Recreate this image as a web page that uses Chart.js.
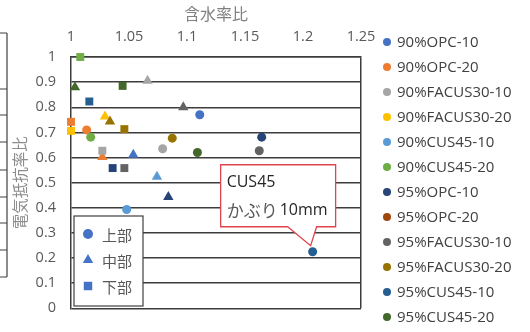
<!DOCTYPE html>
<html>
<head>
<meta charset="utf-8">
<script src="https://cdn.jsdelivr.net/npm/chart.js@4.4.1/dist/chart.umd.min.js"></script>
<style>
  html, body { margin: 0; padding: 0; background: #fff; }
  canvas { display: block; }
</style>
</head>
<body>
<canvas id="moistureChart" width="530" height="332"></canvas>
<script>
const seriesNames = ["90%OPC-10", "90%OPC-20", "90%FACUS30-10", "90%FACUS30-20", "90%CUS45-10", "90%CUS45-20",
  "95%OPC-10", "95%OPC-20", "95%FACUS30-10", "95%FACUS30-20", "95%CUS45-10", "95%CUS45-20"];
const seriesColors = ["#4472C4", "#ED7D31", "#A5A5A5", "#FFC000", "#5B9BD5", "#70AD47",
  "#264478", "#9E480E", "#636363", "#997300", "#255E91", "#43682B"];

// 上部 (circle)
const upperX = [1.111, 1.0135, 1.079, null, 1.048, 1.017, 1.1644, null, 1.1623, 1.0873, 1.2083, 1.109];
const upperY = [0.77, 0.71, 0.635, null, 0.393, 0.681, 0.681, null, 0.627, 0.677, 0.225, 0.62];
// 中部 (triangle)
const middleX = [1.0537, 1.027, 1.066, 1.0293, 1.0741, null, 1.0839, null, 1.0968, 1.0336, null, 1.0034];
const middleY = [0.611, 0.602, 0.905, 0.763, 0.523, null, 0.443, null, 0.80, 0.743, null, 0.88];
// 下部 (square)
const lowerX = [null, 1.0, 1.027, 1.0, null, 1.008, 1.0359, null, 1.046, 1.046, 1.0158, 1.0445];
const lowerY = [null, 0.742, 0.627, 0.706, null, 1.0, 0.558, null, 0.558, 0.713, 0.823, 0.885];

const positionNames = ["上部", "中部", "下部"];
const xTickLabels = ["1", "1.05", "1.1", "1.15", "1.2", "1.25"];
const yTickLabels = ["0", "0.1", "0.2", "0.3", "0.4", "0.5", "0.6", "0.7", "0.8", "0.9", "1"];
const calloutLines = ["CUS45", "かぶり", "10mm"];

const markerStyles = ["circle", "triangle", "rect"];
const markerRadius = [4.5, 6, 5.6];
const lineColor = "#3d3d3d";
const cjkFont = '"Noto Sans CJK JP", sans-serif';
const latinFont = '"Open Sans", sans-serif';

const datasets = seriesNames.map((name, i) => ({
  label: name,
  data: [
    { x: upperX[i], y: upperY[i] },
    { x: middleX[i], y: middleY[i] },
    { x: lowerX[i], y: lowerY[i] }
  ],
  backgroundColor: seriesColors[i],
  borderColor: seriesColors[i],
  pointStyle: markerStyles,
  pointRadius: markerRadius,
  pointBorderWidth: 0,
  clip: false,
  order: seriesNames.length - i
}));

function drawMarker(ctx, style, x, y, r) {
  ctx.beginPath();
  if (style === "circle") {
    ctx.arc(x, y, r, 0, Math.PI * 2);
  } else if (style === "triangle") {
    ctx.moveTo(x, y - r);
    ctx.lineTo(x + r * 0.866, y + r * 0.5);
    ctx.lineTo(x - r * 0.866, y + r * 0.5);
    ctx.closePath();
  } else {
    const s = r * Math.SQRT1_2;
    ctx.rect(x - s, y - s, 2 * s, 2 * s);
  }
  ctx.fill();
}

// cut-off table of the neighbouring figure on the left edge
const leftEdge = {
  id: "leftEdge",
  beforeDraw(chart) {
    const ctx = chart.ctx;
    ctx.save();
    ctx.strokeStyle = "#404040";
    ctx.lineWidth = 1.2;
    ctx.beginPath();
    ctx.moveTo(7, 33); ctx.lineTo(7, 277);
    [33, 89, 115, 142, 170, 197, 223, 250, 277].forEach(y => { ctx.moveTo(0, y); ctx.lineTo(7, y); });
    ctx.stroke();
    ctx.restore();
  }
};

const boxes = {
  id: "boxes",
  afterDatasetsDraw(chart) {
    const ctx = chart.ctx;
    const area = chart.chartArea;
    ctx.save();

    // marker legend (上部 / 中部 / 下部)
    const bx = area.left + 3, by = 216, bw = 69, bh = 90;
    ctx.fillStyle = "#fff";
    ctx.fillRect(bx, by, bw, bh);
    ctx.strokeStyle = "#404040";
    ctx.lineWidth = 1.2;
    ctx.strokeRect(bx, by, bw, bh);
    ctx.font = "15px " + cjkFont;
    ctx.textBaseline = "middle";
    positionNames.forEach((name, i) => {
      const y = by + 18 + i * 26;
      ctx.fillStyle = "#4472C4";
      drawMarker(ctx, markerStyles[i], bx + 14, y, i === 0 ? 5 : 6);
      ctx.fillStyle = "#595959";
      ctx.fillText(name, bx + 28, y + 1);
    });

    // callout for CUS45 cover 10mm
    const pt = chart.getDatasetMeta(10).data[0];
    const px = pt.x, py = pt.y;
    const left = px - 92, right = px + 23, top = py - 87, bottom = py - 25;
    ctx.beginPath();
    ctx.moveTo(left, top);
    ctx.lineTo(right, top);
    ctx.lineTo(right, bottom);
    ctx.lineTo(px + 4, bottom);
    ctx.lineTo(px - 2, py - 6);
    ctx.lineTo(px - 25, bottom);
    ctx.lineTo(left, bottom);
    ctx.closePath();
    ctx.fillStyle = "#fff";
    ctx.fill();
    ctx.strokeStyle = "#E0444C";
    ctx.lineWidth = 1.3;
    ctx.stroke();
    ctx.textBaseline = "middle";
    ctx.font = "16px " + latinFont;
    ctx.fillStyle = "#262626";
    ctx.fillText(calloutLines[0], left + 6, top + 18);
    ctx.font = "17px " + cjkFont;
    ctx.fillStyle = "#595959";
    ctx.fillText(calloutLines[1], left + 6, top + 46);
    const w = ctx.measureText(calloutLines[1]).width;
    ctx.font = "16px " + latinFont;
    ctx.fillStyle = "#262626";
    ctx.fillText(calloutLines[2], left + 8 + w, top + 46);
    ctx.restore();
  }
};

const seriesLegend = {
  id: "seriesLegend",
  afterDraw(chart) {
    const ctx = chart.ctx;
    const x0 = chart.chartArea.right + 26;
    ctx.save();
    ctx.font = "15px " + latinFont;
    ctx.textBaseline = "middle";
    chart.data.datasets.forEach((ds, i) => {
      const y = 42 + i * 25;
      ctx.fillStyle = ds.backgroundColor;
      ctx.beginPath();
      ctx.arc(x0, y, 4, 0, Math.PI * 2);
      ctx.fill();
      ctx.fillStyle = "#404040";
      ctx.fillText(ds.label, x0 + 10, y + 1);
    });
    ctx.restore();
  }
};

new Chart(document.getElementById("moistureChart"), {
  type: "scatter",
  data: { datasets },
  plugins: [leftEdge, boxes, seriesLegend],
  options: {
    responsive: false,
    animation: false,
    devicePixelRatio: 1,
    layout: { padding: { left: 0, top: 0, right: 169, bottom: 23 } },
    plugins: {
      legend: { display: false },
      tooltip: { enabled: false }
    },
    scales: {
      x: {
        type: "linear",
        position: "top",
        min: 1,
        max: 1.25,
        afterFit: (scale) => { scale.height = 57; },
        ticks: {
          stepSize: 0.05,
          padding: 11,
          color: "#595959",
          font: { size: 14.5, family: latinFont },
          callback: (value, index) => xTickLabels[index]
        },
        grid: {
          drawTicks: false,
          lineWidth: 1.5,
          color: (c) => (c.tick && Math.abs(c.tick.value - 1.25) < 1e-6 ? lineColor : "rgba(0,0,0,0)")
        },
        border: { display: true, color: lineColor, width: 1.5 },
        title: {
          display: true,
          text: "含水率比",
          color: "#808080",
          font: { size: 16, family: cjkFont },
          padding: { top: 4, bottom: 0 }
        }
      },
      y: {
        min: 0,
        max: 1,
        afterFit: (scale) => { scale.width = 71; },
        ticks: {
          stepSize: 0.1,
          padding: 15,
          color: "#595959",
          font: { size: 14.5, family: latinFont },
          callback: (value, index) => yTickLabels[index]
        },
        grid: { drawTicks: false, lineWidth: 1.5, color: lineColor },
        border: { display: true, color: lineColor, width: 1.5 },
        title: {
          display: true,
          text: "電気抵抗率比",
          color: "#8c8c8c",
          font: { size: 15.5, family: cjkFont },
          padding: { top: 11, bottom: 0 }
        }
      }
    }
  }
});
</script>
</body>
</html>
